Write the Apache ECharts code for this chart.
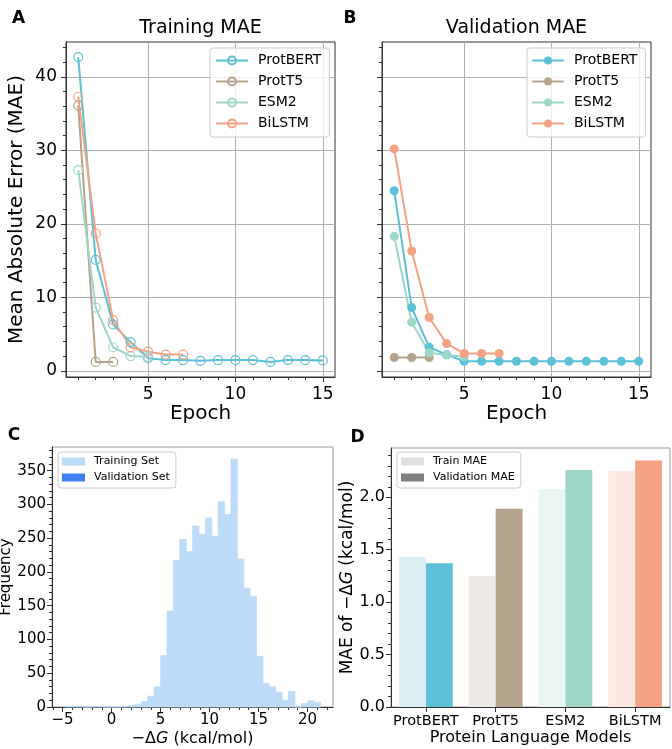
<!DOCTYPE html>
<html>
<head>
<meta charset="utf-8">
<script src="https://cdn.jsdelivr.net/npm/echarts@6/dist/echarts.min.js"></script>
<style>
  html, body { margin: 0; padding: 0; background: #fff; }
  #chart { width: 672px; height: 749px; }
</style>
</head>
<body>
<div id="chart"></div>
<script>
const FONT = 'DejaVu Sans'

// epochs / MAE curves (panels A and B)
const epochs = [1, 2, 3, 4, 5, 6, 7, 8, 9, 10, 11, 12, 13, 14, 15]
const trainProtBERT = [42.7, 15.1, 6.3, 3.9, 1.7, 1.45, 1.45, 1.35, 1.45, 1.45, 1.45, 1.2, 1.45, 1.45, 1.4]
const trainProtT5 = [36.1, 1.2, 1.2]
const trainESM2 = [27.3, 8.6, 3.2, 2.0, 1.9]
const trainBiLSTM = [37.3, 18.7, 6.9, 3.2, 2.6, 2.2, 2.2]
const valProtBERT = [24.5, 8.6, 3.2, 2.2, 1.3, 1.3, 1.3, 1.3, 1.3, 1.3, 1.3, 1.3, 1.3, 1.3, 1.3]
const valProtT5 = [1.8, 1.8, 1.8]
const valESM2 = [18.3, 6.6, 2.45, 2.15, 1.9]
const valBiLSTM = [30.2, 16.3, 7.25, 3.7, 2.35, 2.35, 2.35]

// histogram of -dG (panel C), 40 bins
const histStart = -4.78
const histBinWidth = 0.6525
const histCounts = [1, 1, 1, 0, 1, 1, 0, 0, 0, 1,
                    2, 4, 8, 16, 30, 76, 142, 217, 248, 230,
                    268, 256, 280, 253, 304, 285, 367, 219, 176, 164,
                    75, 35, 30, 22, 10, 23, 0, 5, 9, 7]
const histValidation = []

// final MAE per model (panel D)
const models = ['ProtBERT', 'ProtT5', 'ESM2', 'BiLSTM']
const trainMAE = [1.43, 1.25, 2.08, 2.25]
const valMAE = [1.37, 1.89, 2.26, 2.35]

// ticks
const maeTicks = [0, 10, 20, 30, 40]
const epochTicks = [5, 10, 15]
const freqTicks = [0, 50, 100, 150, 200, 250, 300, 350]
const dgTicks = [-5, 0, 5, 10, 15, 20]
const barTicks = [0, 0.5, 1.0, 1.5, 2.0]

const modelColors = ['#5bc0d8', '#b5a48c', '#9ed6c8', '#f4a284']
const trainBarColors = ['#dbeff5', '#eeeae6', '#e9f5f2', '#fde9e2']

function minorTicks(from, to, step, majorStep) {
  const out = []
  for (let k = Math.round(from / step); k * step <= to + 1e-9; k++) {
    const v = +(k * step).toFixed(4)
    const r = v / majorStep
    if (Math.abs(r - Math.round(r)) > 1e-6) out.push(v)
  }
  return out
}

function valueAxes(dim, grid, min, max, major, minor, o) {
  const pos = dim === 'x' ? 'bottom' : 'left'
  return [{
    type: 'value', gridIndex: grid, position: pos, min: min, max: max,
    name: o.name || '', nameLocation: 'middle', nameGap: o.nameGap || 0,
    nameTextStyle: {
      fontFamily: FONT, fontSize: o.nameSize || 16, color: '#000',
      rich: { i: { fontFamily: FONT, fontSize: o.nameSize || 16, fontStyle: 'italic', color: '#000' } }
    },
    axisLine: { show: true, onZero: false, lineStyle: { color: '#333', width: 1 } },
    axisTick: { show: true, length: 5, customValues: major, lineStyle: { color: '#333' } },
    axisLabel: {
      show: o.labels !== false, customValues: major, margin: o.margin || 8,
      fontFamily: FONT, fontSize: o.fontSize || 16, color: '#000',
      formatter: o.formatter
    },
    splitLine: { show: !!o.grid, lineStyle: { color: '#b0b0b0', width: 1 } }
  }, {
    type: 'value', gridIndex: grid, position: pos, min: min, max: max,
    axisLine: { show: false, onZero: false },
    axisTick: { show: true, length: 3, customValues: minor, lineStyle: { color: '#333' } },
    axisLabel: { show: false },
    splitLine: { show: false }
  }]
}

function lineSeries(name, vals, color, axis, filled) {
  return {
    type: 'line', name: name, xAxisIndex: axis, yAxisIndex: axis,
    data: vals.map((v, i) => [epochs[i], v]),
    symbol: 'circle', symbolSize: 9,
    lineStyle: { color: color, width: 2 },
    itemStyle: filled
      ? { color: color }
      : { color: 'rgba(255,255,255,0)', borderColor: color, borderWidth: 1.2 },
    emphasis: { disabled: true },
    z: 3
  }
}

function legendBox(left, top, data, extra) {
  return Object.assign({
    left: left, top: top, orient: 'vertical', data: data,
    backgroundColor: 'rgba(255,255,255,0.8)', borderColor: '#ccc', borderWidth: 1, borderRadius: 3,
    selectedMode: false
  }, extra)
}

const chart = echarts.init(document.getElementById('chart'))

const maxA = 44.75, minA = -0.85

const xAxes = [].concat(
  valueAxes('x', 0, 0.3, 15.7, epochTicks, minorTicks(1, 15, 1, 5),
    { grid: true, name: 'Epoch', nameGap: 27, nameSize: 20, fontSize: 17, margin: 9 }),
  valueAxes('x', 1, 0.3, 15.7, epochTicks, minorTicks(1, 15, 1, 5),
    { grid: true, name: 'Epoch', nameGap: 27, nameSize: 20, fontSize: 17, margin: 9 }),
  valueAxes('x', 2, -6.08, 22.6, dgTicks, minorTicks(-6, 22, 1, 5),
    { name: '−Δ{i|G} (kcal/mol)', nameGap: 24, nameSize: 16, fontSize: 15, margin: 6,
      formatter: v => v < 0 ? '−' + Math.abs(v) : String(v) }),
  [{
    type: 'category', gridIndex: 3, position: 'bottom', data: models,
    name: 'Protein Language Models', nameLocation: 'middle', nameGap: 23,
    nameTextStyle: { fontFamily: FONT, fontSize: 16, color: '#000' },
    axisLine: { show: true, onZero: false, lineStyle: { color: '#333' } },
    axisTick: { show: true, alignWithLabel: true, length: 5, lineStyle: { color: '#333' } },
    axisLabel: { interval: 0, hideOverlap: false, fontFamily: FONT, fontSize: 14.5, color: '#000', margin: 7 },
    splitLine: { show: false }
  }]
)

const yAxes = [].concat(
  valueAxes('y', 0, minA, maxA, maeTicks, minorTicks(2, 44, 2, 10),
    { grid: true, name: 'Mean Absolute Error (MAE)', nameGap: 39, nameSize: 20, fontSize: 17, margin: 9 }),
  valueAxes('y', 1, minA, maxA, maeTicks, minorTicks(2, 44, 2, 10),
    { grid: true, labels: false }),
  valueAxes('y', 2, 0, 385, freqTicks, minorTicks(10, 380, 10, 50),
    { name: 'Frequency', nameGap: 36, nameSize: 15, fontSize: 15, margin: 6 }),
  valueAxes('y', 3, 0, 2.47, barTicks, minorTicks(0.1, 2.4, 0.1, 0.5),
    { name: 'MAE of −Δ{i|G} (kcal/mol)', nameGap: 31, nameSize: 17, fontSize: 16, margin: 6,
      formatter: v => v.toFixed(1) })
)

const option = {
  backgroundColor: '#fff',
  animation: false,
  textStyle: { fontFamily: FONT },
  grid: [
    { left: 66, top: 42, width: 269, height: 335, show: true, borderColor: '#333', borderWidth: 1, containLabel: false, outerBoundsMode: 'none' },
    { left: 382, top: 42, width: 269, height: 335, show: true, borderColor: '#333', borderWidth: 1, containLabel: false, outerBoundsMode: 'none' },
    { left: 52, top: 447, width: 281, height: 260, show: true, borderColor: '#999', borderWidth: 1, containLabel: false, outerBoundsMode: 'none' },
    { left: 391, top: 448, width: 279, height: 259, show: true, borderColor: '#999', borderWidth: 1, containLabel: false, outerBoundsMode: 'none' }
  ],
  xAxis: xAxes,
  yAxis: yAxes,
  legend: [
    legendBox(210, 48, models, {
      itemWidth: 32, itemHeight: 10, itemGap: 6, padding: [5, 8, 6, 5],
      textStyle: { fontFamily: FONT, fontSize: 14, lineHeight: 15, color: '#000', padding: [0, 0, 0, 5] }
    }),
    legendBox(527, 48, models.map(m => 'val:' + m), {
      itemWidth: 32, itemHeight: 10, itemGap: 6, padding: [5, 8, 6, 4],
      formatter: n => n.replace('val:', ''),
      textStyle: { fontFamily: FONT, fontSize: 14, lineHeight: 15, color: '#000', padding: [0, 0, 0, 5] }
    }),
    legendBox(58, 452, ['Training Set', 'Validation Set'], {
      icon: 'rect', itemWidth: 23, itemHeight: 8, itemGap: 3, padding: [3, 6, 4, 4],
      textStyle: { fontFamily: FONT, fontSize: 11, lineHeight: 13, color: '#000', padding: [0, 0, 0, 4] }
    }),
    legendBox(397, 452, ['Train MAE', 'Validation MAE'], {
      icon: 'rect', itemWidth: 23, itemHeight: 8, itemGap: 3, padding: [3, 6, 4, 4],
      textStyle: { fontFamily: FONT, fontSize: 11, lineHeight: 13, color: '#000', padding: [0, 0, 0, 4] }
    })
  ],
  graphic: [
    { type: 'text', x: 200.5, y: 28, style: { text: 'Training MAE', font: '19px "DejaVu Sans"', fill: '#000', align: 'center', verticalAlign: 'middle', textAlign: 'center', textVerticalAlign: 'middle' } },
    { type: 'text', x: 516.5, y: 28, style: { text: 'Validation MAE', font: '19px "DejaVu Sans"', fill: '#000', align: 'center', verticalAlign: 'middle', textAlign: 'center', textVerticalAlign: 'middle' } },
    { type: 'text', x: 18.5, y: 19, style: { text: 'A', font: 'bold 17px "DejaVu Sans"', fill: '#000', align: 'center', verticalAlign: 'middle', textAlign: 'center', textVerticalAlign: 'middle' } },
    { type: 'text', x: 350, y: 19, style: { text: 'B', font: 'bold 17px "DejaVu Sans"', fill: '#000', align: 'center', verticalAlign: 'middle', textAlign: 'center', textVerticalAlign: 'middle' } },
    { type: 'text', x: 14, y: 436, style: { text: 'C', font: 'bold 17px "DejaVu Sans"', fill: '#000', align: 'center', verticalAlign: 'middle', textAlign: 'center', textVerticalAlign: 'middle' } },
    { type: 'text', x: 357.5, y: 438, style: { text: 'D', font: 'bold 17px "DejaVu Sans"', fill: '#000', align: 'center', verticalAlign: 'middle', textAlign: 'center', textVerticalAlign: 'middle' } }
  ],
  series: [
    lineSeries('ProtBERT', trainProtBERT, modelColors[0], 0, false),
    lineSeries('ProtT5', trainProtT5, modelColors[1], 0, false),
    lineSeries('ESM2', trainESM2, modelColors[2], 0, false),
    lineSeries('BiLSTM', trainBiLSTM, modelColors[3], 0, false),
    lineSeries('val:ProtBERT', valProtBERT, modelColors[0], 2, true),
    lineSeries('val:ProtT5', valProtT5, modelColors[1], 2, true),
    lineSeries('val:ESM2', valESM2, modelColors[2], 2, true),
    lineSeries('val:BiLSTM', valBiLSTM, modelColors[3], 2, true),
    {
      type: 'custom', name: 'Training Set', xAxisIndex: 4, yAxisIndex: 4,
      itemStyle: { color: '#bddcf8' },
      encode: { x: [0, 1], y: 2 },
      data: histCounts.map((c, i) => [histStart + i * histBinWidth, histStart + (i + 1) * histBinWidth, c]),
      renderItem: function (params, api) {
        const p0 = api.coord([api.value(0), api.value(2)])
        const p1 = api.coord([api.value(1), 0])
        return {
          type: 'rect',
          shape: { x: p0[0], y: p0[1], width: p1[0] - p0[0], height: p1[1] - p0[1] },
          style: { fill: '#bddcf8', stroke: '#bddcf8', lineWidth: 0.8 }
        }
      }
    },
    {
      type: 'custom', name: 'Validation Set', xAxisIndex: 4, yAxisIndex: 4,
      itemStyle: { color: '#3b82f0' },
      data: histValidation,
      renderItem: function () { return null }
    },
    {
      type: 'bar', name: 'Train MAE', xAxisIndex: 6, yAxisIndex: 6,
      itemStyle: { color: '#e0e0e0' },
      barWidth: '38.6%', barGap: '0%',
      data: trainMAE.map((v, i) => ({ value: v, itemStyle: { color: trainBarColors[i] } }))
    },
    {
      type: 'bar', name: 'Validation MAE', xAxisIndex: 6, yAxisIndex: 6,
      itemStyle: { color: '#808080' },
      barWidth: '38.6%', barGap: '0%',
      data: valMAE.map((v, i) => ({ value: v, itemStyle: { color: modelColors[i] } }))
    }
  ]
}

chart.setOption(option)
</script>
</body>
</html>
